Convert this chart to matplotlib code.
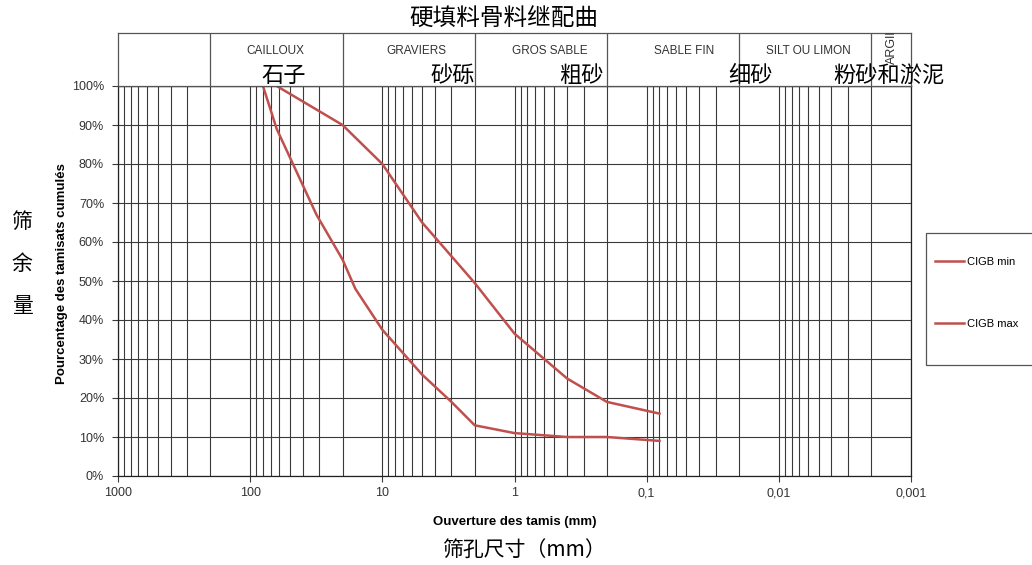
import matplotlib
matplotlib.use('Agg')
import numpy as np
import matplotlib.pyplot as plt
from matplotlib.ticker import FixedLocator, LogLocator, FuncFormatter
from matplotlib.patches import Rectangle

plt.rcParams['font.family'] = ['Liberation Sans', 'DejaVu Sans']
CJK = ['Noto Sans CJK SC', 'DejaVu Sans']

# courbes granulometriques (ouverture en mm, % passant)
tamis_max = [63, 20, 10, 5, 2, 1, 0.4, 0.2, 0.08]
cigb_max = [100, 90, 80, 65, 49.5, 36.5, 25, 19, 16]
tamis_min = [80, 63, 31.5, 20, 16, 10, 5, 3, 2, 1, 0.4, 0.2, 0.08]
cigb_min = [100, 89, 67, 55.5, 48, 37.5, 26, 19, 13, 11, 10, 10, 9]

decades = [1000, 100, 10, 1, 0.1, 0.01, 0.001]
bornes = [200, 20, 2, 0.2, 0.02, 0.002]
classes = ['CAILLOUX', 'GRAVIERS', 'GROS SABLE', 'SABLE FIN', 'SILT OU LIMON']
classes_zh = ['石子', '砂砾', '粗砂', '细砂', '粉砂和淤泥']
pourcents = list(range(0, 101, 10))

W, H = 1032, 565
ROUGE = '#C0504D'
GRILLE = '#3a3a3a'


def box(x0, y0, x1, y1):
    return [x0 / W, 1 - y1 / H, (x1 - x0) / W, (y1 - y0) / H]


def ftext(x, y, s, **kw):
    return fig.text(x / W, 1 - y / H, s, **kw)


fig = plt.figure(figsize=(W / 100, H / 100), dpi=100)
ax = fig.add_axes(box(118, 86, 911, 476))
ax.set_xscale('log')
ax.set_xlim(1000, 0.001)
ax.set_ylim(0, 100)

ax.plot(tamis_min, cigb_min, color=ROUGE, lw=1.8, label='CIGB min')
ax.plot(tamis_max, cigb_max, color=ROUGE, lw=1.8, label='CIGB max')

ax.xaxis.set_major_locator(FixedLocator(decades))
ax.xaxis.set_minor_locator(LogLocator(base=10, subs=np.arange(2, 10), numticks=100))
ax.xaxis.set_major_formatter(FuncFormatter(lambda v, p: f'{v:g}'.replace('.', ',')))
ax.xaxis.set_minor_formatter(FuncFormatter(lambda v, p: ''))
ax.yaxis.set_major_locator(FixedLocator(pourcents))
ax.yaxis.set_major_formatter(FuncFormatter(lambda v, p: f'{v:.0f}%'))
ax.grid(which='both', axis='x', color=GRILLE, lw=0.8)
ax.grid(which='major', axis='y', color=GRILLE, lw=0.8)
ax.tick_params(which='major', direction='out', length=4, labelsize=9,
               labelcolor='#333333', color=GRILLE, pad=4)
ax.tick_params(axis='y', pad=6)
ax.tick_params(which='minor', length=0)
for s in ax.spines.values():
    s.set_color('#222222')
    s.set_linewidth(0.9)

ax.set_xlabel('Ouverture des tamis (mm)', fontsize=9.5, fontweight='bold', labelpad=12)
ax.set_ylabel('Pourcentage des tamisats cumulés', fontsize=9.5, fontweight='bold')
ax.yaxis.set_label_coords(-0.063, 0.52)

# bandeau des classes
hx = fig.add_axes(box(118, 33, 911, 86))
hx.set_xscale('log')
hx.set_xlim(1000, 0.001)
hx.set_ylim(53, 0)
hx.set_xticks([])
hx.set_yticks([])
hx.set_xticks([], minor=True)
for s in hx.spines.values():
    s.set_color('#555555')
    s.set_linewidth(0.9)
hx.vlines(bornes, 0, 53, color='#555555', lw=0.9)

for x, s in zip([275, 416, 550, 684, 808], classes):
    ftext(x, 51, s, fontsize=8.5, color='#333333', ha='center', va='center')
hx.text(0.0014, 31, 'ARGILE', rotation=90, fontsize=9, color='#333333',
        ha='center', va='bottom', clip_on=True)

for x, s in zip([284, 453, 581, 751, 889], classes_zh):
    ftext(x, 75, s, fontsize=16, family=CJK, ha='center', va='center')

ftext(504, 19, '硬填料骨料继配曲', fontsize=17, family=CJK, ha='center', va='center')
for y, c in zip([222, 264, 306], '筛余量'):
    ftext(22, y, c, fontsize=15, family=CJK, ha='center', va='center')
ftext(524, 551, '筛孔尺寸（mm）', fontsize=15, family=CJK, ha='center', va='center')

# legende
fig.patches.append(Rectangle((926 / W, 1 - 365 / H), 130 / W, 132 / H,
                             transform=fig.transFigure, fill=False,
                             edgecolor='#555555', lw=0.9))
fig.legend(loc='upper left', bbox_to_anchor=(935 / W, 1 - 257 / H),
           frameon=False, fontsize=8, handlelength=2.6, handletextpad=0.3,
           labelspacing=4.7, borderpad=0, borderaxespad=0)

fig.savefig('out.png', dpi=100)
